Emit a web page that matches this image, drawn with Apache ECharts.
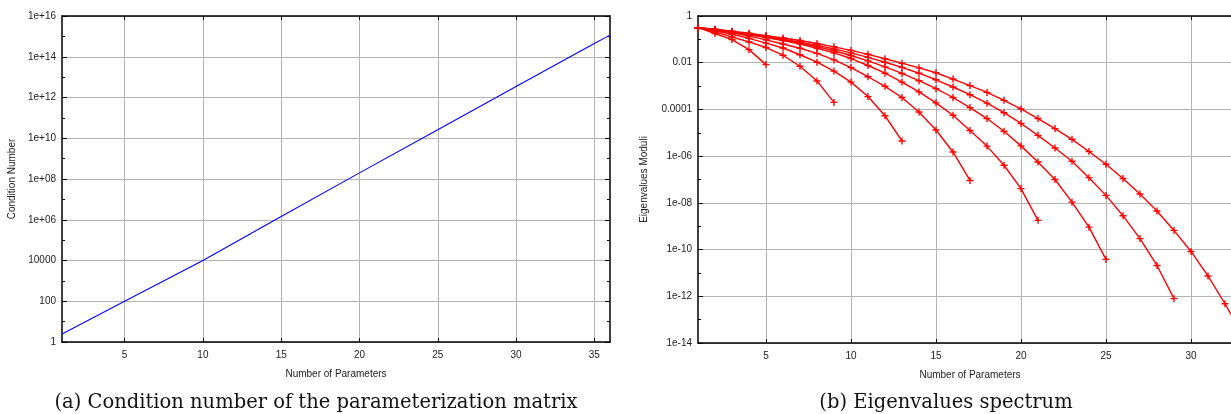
<!DOCTYPE html>
<html><head><meta charset="utf-8">
<script src="https://cdn.jsdelivr.net/npm/echarts@6/dist/echarts.min.js"></script>
<style>html,body{margin:0;padding:0;background:#fff}#c{width:1231px;height:414px}</style>
</head><body><div id="c"></div>
<script>
// ---- data ----
const xTicks = [5, 10, 15, 20, 25, 30, 35];
const xTicksB = [5, 10, 15, 20, 25, 30];
const condX = [1, 5, 10, 15, 20, 25, 30, 35, 36];
const condNumber = [2.5, 100, 1e4, 1.45e6, 2.0e8, 2.6e10, 3.5e12, 4.5e14, 1.15e15];

const spectrumSizes = [5, 9, 13, 17, 21, 25, 29, 33];
const eig5 = [3.16e-1,1.78e-1,9.77e-2,3.63e-2,8.3e-3];
const eig9 = [3.16e-1,2.09e-1,1.26e-1,7.76e-2,4.47e-2,2.09e-2,7.08e-3,1.66e-3,2.0e-4];
const eig13 = [3.16e-1,2.34e-1,1.66e-1,1.10e-1,6.92e-2,4.27e-2,2.19e-2,1.05e-2,4.37e-3,1.48e-3,3.55e-4,5.37e-5,4.47e-6];
const eig17 = [3.16e-1,2.51e-1,1.91e-1,1.38e-1,9.55e-2,6.31e-2,4.17e-2,2.51e-2,1.32e-2,6.17e-3,2.51e-3,9.77e-4,3.24e-4,7.76e-5,1.32e-5,1.51e-6,9.12e-8];
const eig21 = [3.16e-1,2.57e-1,2.04e-1,1.58e-1,1.20e-1,8.91e-2,6.31e-2,4.17e-2,2.63e-2,1.51e-2,7.59e-3,3.55e-3,1.48e-3,5.62e-4,1.91e-4,5.62e-5,1.26e-5,2.69e-6,4.07e-7,4.07e-8,1.78e-9];
const eig25 = [3.16e-1,2.63e-1,2.14e-1,1.66e-1,1.29e-1,9.77e-2,7.08e-2,4.90e-2,3.24e-2,2.04e-2,1.20e-2,6.61e-3,3.47e-3,1.70e-3,7.76e-4,3.24e-4,1.20e-4,4.07e-5,1.17e-5,2.75e-6,5.62e-7,1.0e-7,1.07e-8,9.12e-10,3.80e-11];
const eig29 = [3.16e-1,2.63e-1,2.14e-1,1.70e-1,1.35e-1,1.02e-1,7.59e-2,5.50e-2,3.89e-2,2.63e-2,1.70e-2,1.05e-2,6.31e-3,3.55e-3,1.86e-3,9.12e-4,4.27e-4,1.86e-4,7.24e-5,2.51e-5,7.76e-6,2.24e-6,6.03e-7,1.20e-7,2.09e-8,2.82e-9,2.95e-10,2.09e-11,7.94e-13];
const eig33 = [3.16e-1,2.69e-1,2.24e-1,1.82e-1,1.45e-1,1.15e-1,8.91e-2,6.61e-2,4.79e-2,3.39e-2,2.29e-2,1.48e-2,9.55e-3,6.03e-3,3.72e-3,2.0e-3,1.05e-3,5.37e-4,2.45e-4,1.05e-4,4.07e-5,1.51e-5,5.25e-6,1.58e-6,4.47e-7,1.10e-7,2.40e-8,4.47e-9,6.61e-10,8.32e-11,7.41e-12,4.79e-13,2.51e-14];
const spectra = [eig5, eig9, eig13, eig17, eig21, eig25, eig29, eig33];

const xTitle = 'Number of Parameters';
const yTitleA = 'Condition Number';
const yTitleB = 'Eigenvalues Moduli';
const captionA = '(a) Condition number of the parameterization matrix';
const captionB = '(b) Eigenvalues spectrum';

// ---- styling ----
const FONT = 'Liberation Sans';
const GRIDC = '#b4b4b4';
function fmtLog(v) {
  const e = Math.round(Math.log10(v));
  if (e >= 0 && e <= 4) return String(Math.round(v));
  if (e < 0 && e >= -4) return v.toFixed(-e);
  const a = Math.abs(e);
  return '1e' + (e < 0 ? '-' : '+') + (a < 10 ? '0' : '') + a;
}
function xAxes(gi, max, ticks) {
  return [
    { type: 'value', gridIndex: gi, position: 'bottom', min: 1, max: max,
      name: xTitle, nameLocation: 'middle', nameGap: 27,
      nameTextStyle: { fontFamily: FONT, fontSize: 10, color: '#222' },
      axisLine: { show: true, onZero: false, lineStyle: { color: '#000', width: 1.5 } },
      axisTick: { show: true, inside: true, length: 4, customValues: ticks, lineStyle: { color: '#000' } },
      axisLabel: { show: true, customValues: ticks, margin: 8, fontFamily: FONT, fontSize: 10, color: '#222' },
      splitLine: { show: true, lineStyle: { color: GRIDC, width: 1 } } },
    { type: 'value', gridIndex: gi, position: 'top', min: 1, max: max,
      axisLine: { show: true, onZero: false, lineStyle: { color: '#000', width: 1.5 } },
      axisTick: { show: true, inside: true, length: 4, customValues: ticks, lineStyle: { color: '#000' } },
      axisLabel: { show: false }, splitLine: { show: false } }
  ];
}
function yAxes(gi, min, max, title, gap) {
  const base = { type: 'log', logBase: 10, gridIndex: gi, min: min, max: max };
  return [
    Object.assign({}, base, { position: 'left', interval: 2,
      name: title, nameLocation: 'middle', nameGap: gap,
      nameTextStyle: { fontFamily: FONT, fontSize: 10, color: '#222' },
      axisLine: { show: true, onZero: false, lineStyle: { color: '#000', width: 1.5 } },
      axisTick: { show: true, inside: true, length: 5, lineStyle: { color: '#000' } },
      axisLabel: { show: true, margin: 6, formatter: fmtLog, fontFamily: FONT, fontSize: 10, color: '#222' },
      splitLine: { show: true, lineStyle: { color: GRIDC, width: 1 } } }),
    Object.assign({}, base, { position: 'left', interval: 1,
      axisLine: { show: false }, axisTick: { show: true, inside: true, length: 3, lineStyle: { color: '#000' } },
      axisLabel: { show: false }, splitLine: { show: false } }),
    Object.assign({}, base, { position: 'right', interval: 2,
      axisLine: { show: true, onZero: false, lineStyle: { color: '#000', width: 1.5 } },
      axisTick: { show: true, inside: true, length: 5, lineStyle: { color: '#000' } },
      axisLabel: { show: false }, splitLine: { show: false } }),
    Object.assign({}, base, { position: 'right', interval: 1,
      axisLine: { show: false }, axisTick: { show: true, inside: true, length: 3, lineStyle: { color: '#000' } },
      axisLabel: { show: false }, splitLine: { show: false } })
  ];
}

const PLUS = 'path://M4,0 h2 v4 h4 v2 h-4 v4 h-2 v-4 h-4 v-2 h4 z';

const series = [{
  type: 'line', xAxisIndex: 0, yAxisIndex: 0, showSymbol: false, symbol: 'none',
  lineStyle: { color: '#0000ff', width: 1.1 }, silent: true, animation: false,
  data: condX.map((x, i) => [x, condNumber[i]])
}];
spectra.forEach((arr, k) => {
  series.push({
    type: 'line', name: 'N=' + spectrumSizes[k], xAxisIndex: 2, yAxisIndex: 4,
    symbol: PLUS, symbolSize: 7, showSymbol: true,
    itemStyle: { color: '#ff0000' }, lineStyle: { color: '#ff0000', width: 1.4 },
    animation: false, silent: true,
    data: arr.map((v, i) => [i + 1, v])
  });
});

const chart = echarts.init(document.getElementById('c'), null, { renderer: 'canvas' });
chart.setOption({
  backgroundColor: '#fff',
  animation: false,
  grid: [
    { left: 62, top: 16, width: 548, height: 326, outerBoundsMode: 'none', containLabel: false },
    { left: 698, top: 16, width: 544, height: 327, outerBoundsMode: 'none', containLabel: false }
  ],
  xAxis: xAxes(0, 36, xTicks).concat(xAxes(1, 33, xTicksB)),
  yAxis: yAxes(0, 1, 1e16, yTitleA, 45).concat(yAxes(1, 1e-14, 1, yTitleB, 49)),
  series: series,
  graphic: [
    { type: 'text', x: 316, y: 403, style: { text: captionA, fontFamily: 'DejaVu Serif', fontSize: 19.5, fill: '#111', align: 'center', verticalAlign: 'middle' } },
    { type: 'text', x: 946, y: 403, style: { text: captionB, fontFamily: 'DejaVu Serif', fontSize: 19.5, fill: '#111', align: 'center', verticalAlign: 'middle' } }
  ]
});
</script></body></html>
